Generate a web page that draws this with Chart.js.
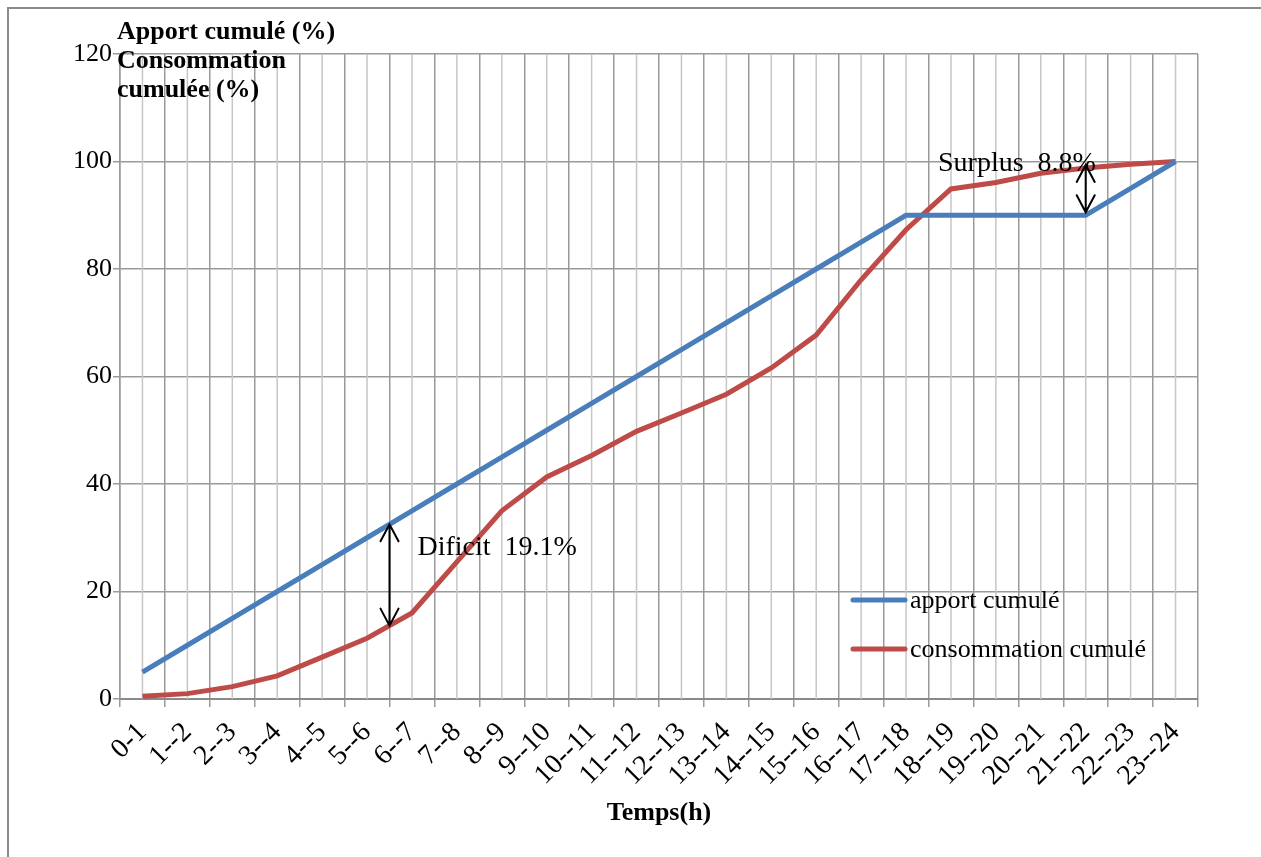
<!DOCTYPE html>
<html>
<head>
<meta charset="utf-8">
<script src="https://cdn.jsdelivr.net/npm/chart.js@4.4.1/dist/chart.umd.min.js"></script>
<style>
  html, body { margin: 0; padding: 0; background: #fff; }
  #wrap { position: relative; width: 1261px; height: 857px; }
</style>
</head>
<body>
<div id="wrap"><canvas id="cumulChart" width="1261" height="857"></canvas></div>
<script>
// tranches horaires
const tranches = ['0-1', '1--2', '2--3', '3--4', '4--5', '5--6', '6--7', '7--8', '8--9', '9--10',
  '10--11', '11--12', '12--13', '13--14', '14--15', '15--16', '16--17', '17--18', '18--19',
  '19--20', '20--21', '21--22', '22--23', '23--24'];

// apport cumulé (%)
const apportCumule = [5, 10, 15, 20, 25, 30, 35, 40, 45, 50, 55, 60, 65, 70, 75, 80, 85, 90,
  90, 90, 90, 90, 95, 100];

// consommation cumulée (%)
const consoCumulee = [0.5, 1.0, 2.3, 4.3, 7.8, 11.3, 16.0, 25.5, 35.0, 41.3, 45.3, 49.8, 53.2,
  56.7, 61.6, 67.7, 78.0, 87.3, 94.9, 96.1, 97.8, 98.8, 99.5, 100];

const yTicks = [0, 20, 40, 60, 80, 100, 120];

const serif = "'Liberation Serif', 'Times New Roman', serif";
const bleu = '#4a7ebb';
const rouge = '#be4b48';

// valeur interpolée d'une série à un indice fractionnaire
function valeurA(serie, idx) {
  const i = Math.floor(idx), f = idx - i;
  if (f === 0 || i + 1 >= serie.length) return serie[i];
  return serie[i] + (serie[i + 1] - serie[i]) * f;
}

function fleche(ctx, x, y1, y2) {
  const top = Math.min(y1, y2), bot = Math.max(y1, y2);
  ctx.save();
  ctx.strokeStyle = '#000';
  ctx.lineWidth = 2;
  ctx.beginPath();
  ctx.moveTo(x, top); ctx.lineTo(x, bot);
  ctx.moveTo(x - 9, top + 17); ctx.lineTo(x, top); ctx.lineTo(x + 9, top + 17);
  ctx.moveTo(x - 9, bot - 17); ctx.lineTo(x, bot); ctx.lineTo(x + 9, bot - 17);
  ctx.stroke();
  ctx.restore();
}

// lignes de grille intermédiaires (au centre des tranches)
const grilleCentre = {
  id: 'grilleCentre',
  beforeDatasetsDraw(chart) {
    const { ctx, chartArea, scales } = chart;
    ctx.save();
    ctx.strokeStyle = '#c6c6c6';
    ctx.lineWidth = 1.5;
    tranches.forEach((t, i) => {
      const x = scales.x.getPixelForValue(i);
      ctx.beginPath();
      ctx.moveTo(x, chartArea.top);
      ctx.lineTo(x, chartArea.bottom);
      ctx.stroke();
    });
    ctx.restore();
  }
};

// titre de l'axe Y, légende, annotations, cadre
const decor = {
  id: 'decor',
  afterDraw(chart) {
    const { ctx, scales } = chart;
    const xs = scales.x, ys = scales.y;
    ctx.save();

    // cadre
    ctx.strokeStyle = '#8a8a8a';
    ctx.lineWidth = 2;
    ctx.beginPath();
    ctx.moveTo(8, 870); ctx.lineTo(8, 8); ctx.lineTo(1270, 8);
    ctx.stroke();

    // titre axe Y
    ctx.fillStyle = '#000';
    ctx.font = 'bold 26px ' + serif;
    ctx.textAlign = 'left';
    ctx.textBaseline = 'alphabetic';
    ctx.fillText('Apport cumulé (%)', 117, 39);
    ctx.fillText('Consommation', 117, 68);
    ctx.fillText('cumulée (%)', 117, 97);

    // légende
    const leg = [['apport cumulé', bleu, 600], ['consommation cumulé', rouge, 649]];
    ctx.font = '26px ' + serif;
    leg.forEach(([txt, col, y]) => {
      ctx.strokeStyle = col;
      ctx.lineWidth = 5;
      ctx.lineCap = 'round';
      ctx.beginPath();
      ctx.moveTo(853, y); ctx.lineTo(905, y);
      ctx.stroke();
      ctx.fillStyle = '#000';
      ctx.fillText(txt, 910, y + 8);
    });

    // déficit
    const iDef = 5.5;
    const xDef = xs.getPixelForValue(iDef);
    fleche(ctx, xDef, ys.getPixelForValue(valeurA(apportCumule, iDef)), ys.getPixelForValue(valeurA(consoCumulee, iDef)));
    ctx.font = '28px ' + serif;
    ctx.fillStyle = '#000';
    ctx.fillText('Dificit  19.1%', xDef + 28, 555);

    // surplus
    const iSur = 21;
    const xSur = xs.getPixelForValue(iSur);
    fleche(ctx, xSur, ys.getPixelForValue(valeurA(consoCumulee, iSur)) - 3, ys.getPixelForValue(valeurA(apportCumule, iSur)) - 3);
    ctx.fillText('Surplus  8.8%', 938, 171);

    ctx.restore();
  }
};

const ctx = document.getElementById('cumulChart').getContext('2d');
new Chart(ctx, {
  type: 'line',
  data: {
    labels: tranches,
    datasets: [
      { label: 'apport cumulé', data: apportCumule, borderColor: bleu, borderWidth: 5, pointRadius: 0, tension: 0, fill: false },
      { label: 'consommation cumulé', data: consoCumulee, borderColor: rouge, borderWidth: 5, pointRadius: 0, tension: 0, fill: false }
    ]
  },
  options: {
    responsive: false,
    devicePixelRatio: 1,
    animation: false,
    layout: { padding: { left: 0, right: 63, top: 54, bottom: 0 } },
    plugins: { legend: { display: false }, tooltip: { enabled: false } },
    scales: {
      x: {
        offset: true,
        grid: { offset: true, color: '#9a9a9a', lineWidth: 1.5, tickLength: 8, drawTicks: true },
        border: { color: '#8a8a8a', width: 2 },
        ticks: {
          autoSkip: false, minRotation: 45, maxRotation: 45, padding: 9,
          color: '#000', font: { family: serif, size: 28 }
        },
        title: {
          display: true, text: 'Temps(h)', color: '#000',
          font: { family: serif, size: 26, weight: 'bold' },
          padding: { top: 0, bottom: 28 }
        },
        afterFit(s) { s.height = 158; s.paddingLeft = 0; s.paddingRight = 0; }
      },
      y: {
        min: 0, max: 120,
        afterBuildTicks(s) { s.ticks = yTicks.map(v => ({ value: v })); },
        grid: { color: '#9a9a9a', lineWidth: 1.5, tickLength: 7 },
        border: { color: '#9a9a9a', width: 1.5 },
        ticks: { padding: 1, color: '#000', font: { family: serif, size: 26 } },
        afterFit(s) { s.width = 120; s.paddingTop = 0; s.paddingBottom = 0; }
      }
    }
  },
  plugins: [grilleCentre, decor]
});
</script>
</body>
</html>
